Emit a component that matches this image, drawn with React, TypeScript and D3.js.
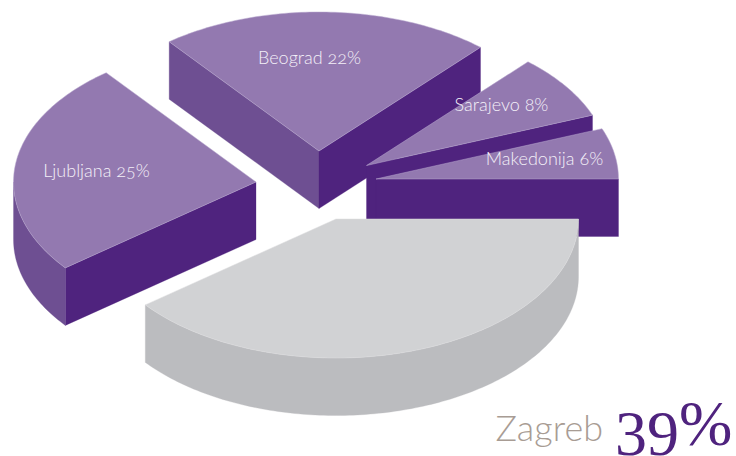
import React from "react";
import * as d3 from "d3";

const cities = ["Zagreb", "Ljubljana", "Beograd", "Sarajevo", "Makedonija"];
const labelPercents = [39, 25, 22, 8, 6];
// Angular shares as drawn in the picture (slightly off the printed percentages)
const drawnShares = [39.4, 25.0, 22.2, 7.5, 5.9];
const centersX = [336, 256, 319, 366.5, 376];
const centersY = [219, 182, 151, 165.5, 179];
const labelX = [0, 96.5, 309.5, 501.5, 544.5];
const labelY = [0, 177, 64, 111, 165];
const paintOrder = [2, 3, 4, 1, 0];

const RX = 242.5;
const RY = 139;
const DEPTH = 57.5;
const TOP = "#9379b0";
const DARK = "#4f237e";
const MID = "#6e4f92";
const EDGE = "#b9a9cf";
const GRAY_TOP = "#d1d2d4";
const GRAY_SIDE = "#bbbcbf";
const GRAY_EDGE = "#dcdcde";
const W = 736;
const H = 456;
const SANS = "Lato, 'Open Sans', sans-serif";

type P = [number, number];
const line = d3.line<P>();

export default function App() {
  const arcs = d3
    .pie<number>()
    .sort(null)
    .startAngle(0)
    .endAngle(2 * Math.PI)(drawnShares);

  const slices = paintOrder.map((i) => {
    const { startAngle: a0, endAngle: a1 } = arcs[i];
    const cx = centersX[i];
    const cy = centersY[i];
    const gray = i === 0;
    const at = (t: number, dz = 0): P => [cx + RX * Math.cos(t), cy + RY * Math.sin(t) + dz];
    const samples = (from: number, to: number) => {
      const n = Math.max(2, Math.ceil(((to - from) * 180) / Math.PI));
      return d3.range(n + 1).map((k) => from + ((to - from) * k) / n);
    };
    const apex: P = [cx, cy];
    const apexLow: P = [cx, cy + DEPTH];
    const topPath = line([apex, ...samples(a0, a1).map((t) => at(t))]) + "Z";

    const faces: { d: string; fill: string }[] = [];
    const cut = (t: number, normal: number) => {
      if (Math.sin(normal) <= 0) return;
      faces.push({
        d: line([apex, at(t), at(t, DEPTH), apexLow]) + "Z",
        fill: gray ? GRAY_SIDE : Math.cos(normal) > 0 ? DARK : MID,
      });
    };
    cut(a0, a0 - Math.PI / 2);
    cut(a1, a1 + Math.PI / 2);

    const o0 = Math.max(a0, 0);
    const o1 = Math.min(a1, Math.PI);
    if (o1 > o0) {
      const up = samples(o0, o1).map((t) => at(t));
      const down = samples(o0, o1).map((t) => at(t, DEPTH)).reverse();
      faces.push({
        d: line([...up, ...down]) + "Z",
        fill: gray ? GRAY_SIDE : MID,
      });
    }
    return { i, gray, topPath, faces };
  });

  return (
    <svg
      width={W}
      height={H}
      viewBox={`0 0 ${W} ${H}`}
      style={{ position: "absolute", left: 0, top: 0, display: "block", background: "#fff" }}
    >
      {slices.map((s) => (
        <g key={cities[s.i]}>
          {s.faces.map((f, k) => (
            <path key={k} d={f.d} fill={f.fill} stroke={f.fill} strokeWidth={0.3} />
          ))}
          <path
            d={s.topPath}
            fill={s.gray ? GRAY_TOP : TOP}
            stroke={s.gray ? GRAY_EDGE : EDGE}
            strokeWidth={0.5}
            strokeLinejoin="round"
          />
        </g>
      ))}
      {cities.map((c, i) =>
        i === 0 ? null : (
          <text
            key={c}
            x={labelX[i]}
            y={labelY[i]}
            textAnchor="middle"
            fontFamily={SANS}
            fontSize={18}
            fontWeight={300}
            fill="#f4f0f8"
            style={{ fontFeatureSettings: "'onum'" }}
          >
            {`${c} ${labelPercents[i]}%`}
          </text>
        )
      )}
      <text x={603} y={441} textAnchor="end" fontFamily={SANS} fontSize={36} fontWeight={300} fill="#a89c94">
        {cities[0]}
      </text>
      <text x={615} y={455} fontFamily="'Liberation Serif', serif" fontSize={64} fill={DARK}>
        {labelPercents[0]}
        <tspan fontSize={64} dy={-10}>%</tspan>
      </text>
    </svg>
  );
}
